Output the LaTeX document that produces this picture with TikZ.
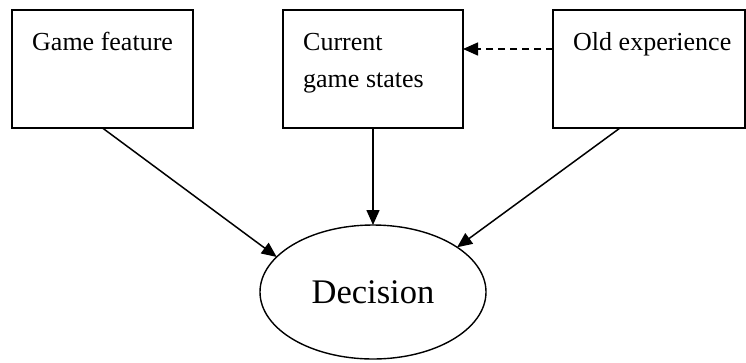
\documentclass[tikz,border=0pt]{standalone}
\usepackage{fontspec}
\setmainfont{Liberation Serif}
\usetikzlibrary{shapes.geometric,arrows.meta}

\tikzset{
  box/.style={draw, line width=1.6pt, rectangle, inner sep=0pt, outer sep=0pt},
  boxtext/.style={anchor=base west, inner sep=0pt, align=left,
    font=\fontsize{26}{37}\selectfont},
  arr/.style={line width=1.5pt, -{Triangle[length=15pt,width=13pt]}},
  dasharr/.style={arr, dash pattern=on 7pt off 5pt},
}

\begin{document}
\begin{tikzpicture}[x=1pt, y=-1pt]
  \useasboundingbox (0,0) rectangle (746,362);

  % input boxes
  \node[box, minimum width=181pt, minimum height=118pt] (feat) at (102.5,69) {};
  \node[box, minimum width=180pt, minimum height=118pt] (state) at (373,69) {};
  \node[box, minimum width=192pt, minimum height=118pt] (exp) at (649,69) {};

  % box captions (base anchor of a multi-line node sits on its last line)
  \node[boxtext] (featT) at (32,50) {Game feature};
  \node[boxtext] (stateT) at (303,87) {Current\\game states};
  \node[boxtext] (expT) at (573,50) {Old experience};

  % decision ellipse
  \node[draw, ellipse, line width=1.4pt, minimum width=226pt, minimum height=134pt,
        inner sep=0pt, outer sep=0pt, font=\fontsize{34.5}{40}\selectfont]
        (dec) at (373,292) {Decision};

  % connectors
  \coordinate (expOut) at (620,128);
  \draw[arr] (feat.south) -- (dec.160);
  \draw[arr] (state.south) -- (dec.north);
  \draw[arr] (expOut) -- (dec.28);
  \draw[dasharr] (exp.west |- 0,49) -- (state.east |- 0,49);
\end{tikzpicture}
\end{document}
